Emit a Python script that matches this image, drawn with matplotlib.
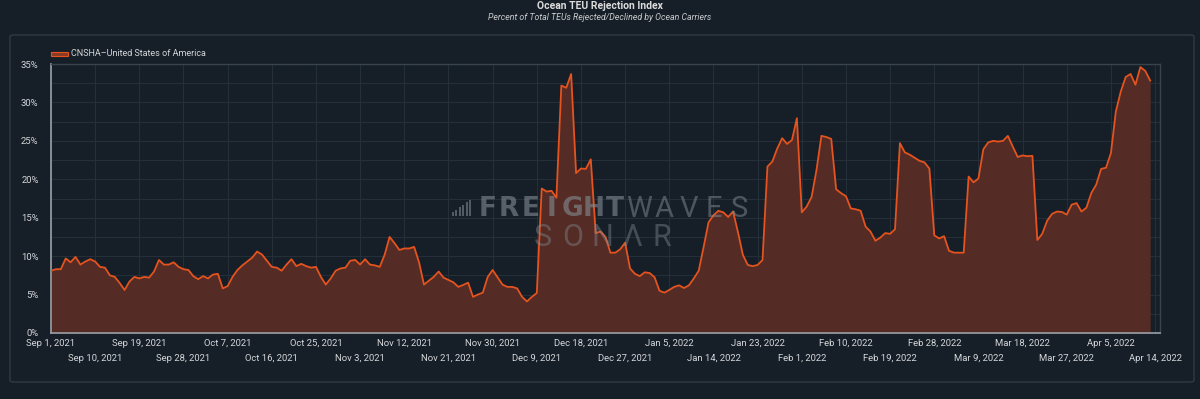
import numpy as np
import pandas as pd
import matplotlib
matplotlib.use("Agg")
import matplotlib.pyplot as plt
from matplotlib.patches import FancyBboxPatch, Rectangle

# percent of TEUs rejected, one value per day, Sep 1 2021 - Apr 13 2022
sep = [8.1, 8.3, 8.3, 9.7, 9.2, 9.9, 8.9, 9.3, 9.6, 9.3,
       8.6, 8.5, 7.5, 7.3, 6.5, 5.6, 6.7, 7.3, 7.1, 7.3,
       7.2, 8.0, 9.5, 8.9, 8.9, 9.2, 8.6, 8.3, 8.2, 7.4]
oct_ = [7.0, 7.4, 7.1, 7.6, 7.7, 5.8, 6.1, 7.3, 8.2, 8.8,
        9.3, 9.8, 10.6, 10.2, 9.4, 8.6, 8.5, 8.1, 8.9, 9.6,
        8.7, 9.0, 8.7, 8.5, 8.6, 7.3, 6.3, 7.1, 8.1, 8.4, 8.5]
nov = [9.4, 9.5, 8.9, 9.6, 8.9, 8.8, 8.6, 10.2, 12.5, 11.7,
       10.8, 11.0, 11.0, 11.2, 9.2, 6.3, 6.8, 7.3, 8.0, 7.2,
       6.9, 6.6, 6.0, 6.25, 6.55, 4.7, 5.0, 5.25, 7.3, 8.2]
dec = [7.25, 6.3, 6.0, 6.0, 5.8, 4.7, 4.1, 4.7, 5.2, 18.8,
       18.4, 18.5, 17.6, 32.2, 31.9, 33.7, 20.8, 21.4, 21.35, 22.6,
       13.0, 13.2, 12.5, 10.45, 10.45, 10.9, 11.75, 8.4, 7.7, 7.4, 7.9]
jan = [7.8, 7.25, 5.5, 5.25, 5.6, 6.0, 6.2, 5.85, 6.2, 7.1,
       8.1, 11.2, 14.4, 15.3, 15.9, 15.7, 15.1, 15.8, 13.1, 10.15,
       8.85, 8.7, 8.85, 9.5, 21.65, 22.3, 24.0, 25.35, 24.6, 25.1, 27.95]
feb = [15.7, 16.45, 17.7, 21.2, 25.65, 25.5, 25.25, 18.7, 18.2, 17.8,
       16.2, 16.1, 15.9, 13.85, 13.2, 12.0, 12.4, 13.0, 12.9, 13.5,
       24.7, 23.5, 23.2, 22.8, 22.4, 22.2, 21.4, 12.7]
mar = [12.3, 12.6, 10.7, 10.45, 10.45, 10.45, 20.35, 19.6, 20.1, 23.9,
       24.8, 25.0, 24.9, 25.0, 25.65, 24.25, 22.9, 23.1, 23.0, 23.05,
       12.1, 12.9, 14.6, 15.5, 15.8, 15.75, 15.4, 16.7, 16.9, 15.8, 16.3]
apr = [18.2, 19.3, 21.35, 21.5, 23.4, 28.8, 31.4, 33.3, 33.7, 32.3,
       34.6, 34.1, 32.85]

values = np.array(sep + oct_ + nov + dec + jan + feb + mar + apr)
dates = pd.date_range("2021-09-01", periods=len(values), freq="D")
tick_dates = pd.date_range("2021-09-01", "2022-04-14", freq="9D")
y_ticks = [0, 5, 10, 15, 20, 25, 30, 35]

bg = "#161f28"
line_c = "#e5531f"
fill_c = "#542b25"
txt_c = "#d4d6d8"
grid_c = "#252f39"

plt.rcParams['font.family'] = ['Roboto', 'DejaVu Sans']

fig = plt.figure(figsize=(12, 3.99), dpi=100, facecolor=bg)
W, H = 1200, 399

def px(x0, y0, x1, y1):
    # pixel box (top-left origin) -> figure fraction rect
    return [x0 / W, 1 - y1 / H, (x1 - x0) / W, (y1 - y0) / H]

# outer panel (behind the axes)
panel = FancyBboxPatch((10 / W, 1 - 382 / H), 1184 / W, 347 / H,
                       boxstyle="round,pad=0,rounding_size=0.004",
                       transform=fig.transFigure, facecolor=bg,
                       edgecolor="#2f3a45", lw=1.0, zorder=-10)
fig.patches.append(panel)

ax = fig.add_axes(px(51, 64, 1160, 333))
ax.set_zorder(1)
ax.set_facecolor(bg)

ax.fill_between(dates, values, 0, color=fill_c, lw=0, zorder=2)
ax.plot(dates, values, color=line_c, lw=1.3, zorder=3)

ax.set_xlim(dates[0], dates[0] + pd.Timedelta(days=226))
ax.set_ylim(0, 35)

ax.set_yticks(y_ticks)
ax.set_yticklabels([f"{v}%" for v in y_ticks])
ax.set_yticks(np.arange(2.5, 35, 5), minor=True)

def fmt(d):
    return f"{d.strftime('%b')} {d.day}, {d.year}"

top_row = tick_dates[0::2]
low_row = tick_dates[1::2]
ax.set_xticks(top_row)
ax.set_xticklabels([fmt(d) for d in top_row])
ax.set_xticks(low_row, minor=True)
ax.set_xticklabels([fmt(d) for d in low_row], minor=True)

ax.tick_params(axis="both", which="both", length=0, colors=txt_c, labelsize=6.8)
ax.tick_params(axis="x", which="major", pad=4)
ax.tick_params(axis="x", which="minor", pad=15)
ax.tick_params(axis="y", which="major", pad=9)
ax.grid(True, which="both", color=grid_c, lw=0.8, zorder=1)
ax.set_axisbelow(True)

for side in ["top", "right"]:
    ax.spines[side].set_color("#39434d")
    ax.spines[side].set_linewidth(1.0)
for side in ["left", "bottom"]:
    ax.spines[side].set_color("#9aa0a6")
    ax.spines[side].set_linewidth(1.2)

# title
fig.text(0.5, 1 - 6 / H, "Ocean TEU Rejection Index", ha="center", va="center",
         color="#dcdcdc", fontsize=7.5, fontweight="bold")
fig.text(0.5, 1 - 18 / H, "Percent of Total TEUs Rejected/Declined by Ocean Carriers",
         ha="center", va="center", color="#c9cbcd", fontsize=6.3, style="italic")

# legend
fig.patches.append(Rectangle((51 / W, 1 - 56 / H), 17 / W, 4 / H,
                             transform=fig.transFigure, facecolor="#8a3a22",
                             edgecolor=line_c, lw=0.8))
fig.text(71 / W, 1 - 53 / H, "CNSHA\u2013United States of America", ha="left",
         va="center", color=txt_c, fontsize=6.5)

# watermark, spread letter by letter
wm = "#848c94"

def spread(word, x0, x1, yc, **kw):
    step = (x1 - x0) / len(word)
    for i, ch in enumerate(word):
        fig.text((x0 + step * (i + 0.5)) / W, 1 - yc / H, ch, ha="center",
                 va="center", color=wm, zorder=10, **kw)

for k in range(6):
    h = 4 + k * 2.4
    fig.patches.append(Rectangle(((452 + k * 3.4) / W, 1 - 216 / H), 2 / W, h / H,
                                 transform=fig.transFigure, facecolor=wm,
                                 alpha=0.55, lw=0, zorder=10))
spread("FREIGHT", 477, 626, 208.5, fontsize=19, fontweight="bold",
       family="DejaVu Sans", alpha=0.6)
spread("WAVES", 626, 752, 208.5, fontsize=21, fontweight="normal", alpha=0.5)
spread("SON\u039bR", 528, 677, 238, fontsize=22, fontweight="normal", alpha=0.42)

fig.savefig("out.png", dpi=100, facecolor=bg)
